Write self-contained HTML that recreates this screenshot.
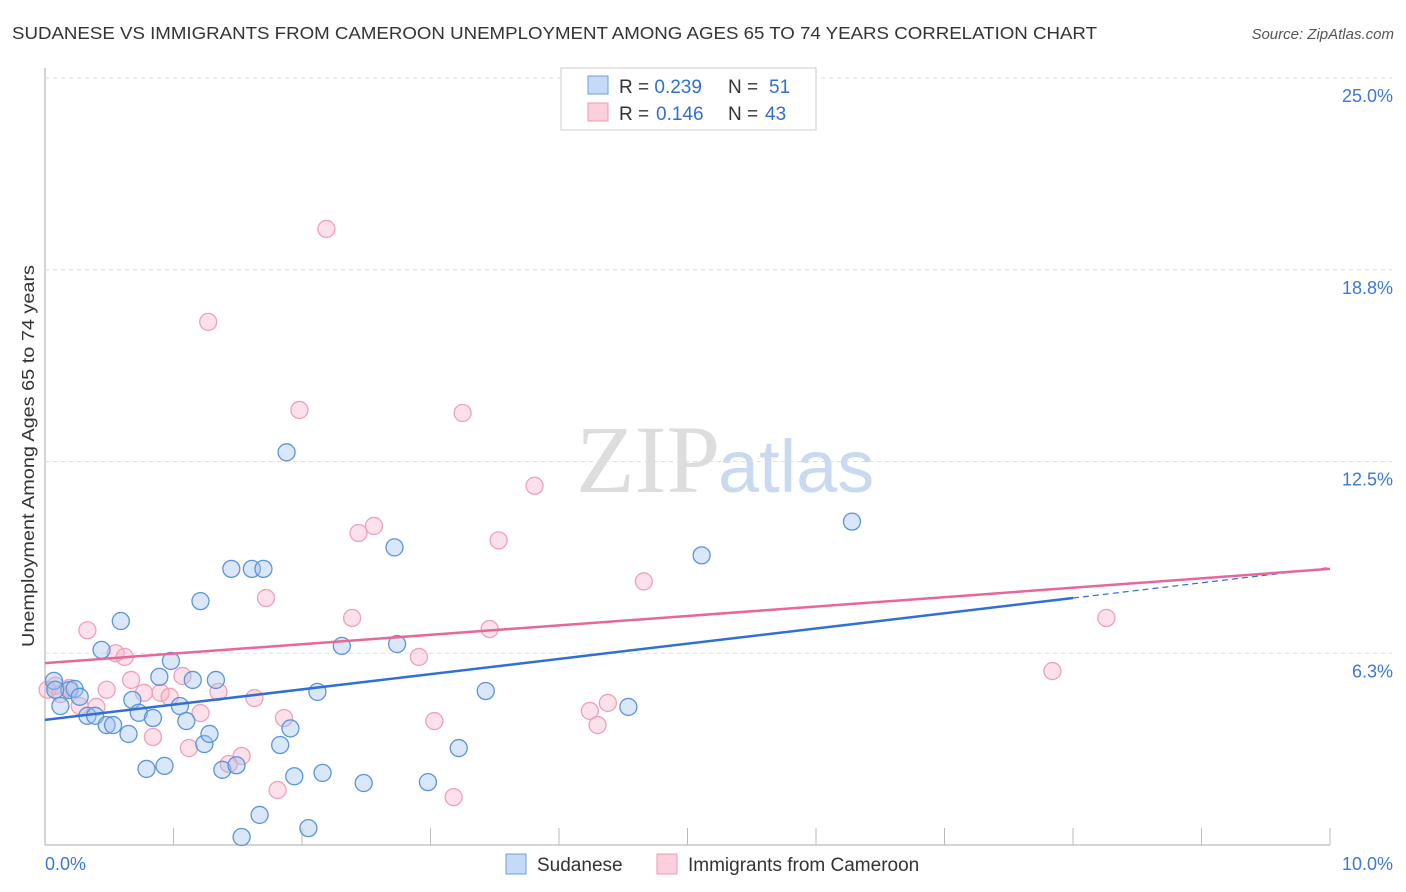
<!DOCTYPE html>
<html><head><meta charset="utf-8"><style>
body{margin:0;background:#fff;font-family:"Liberation Sans",sans-serif;}
#wrap{position:relative;width:1406px;height:892px;overflow:hidden;}
</style></head><body>
<div id="wrap">
<svg id="svg" width="1406" height="892" xmlns="http://www.w3.org/2000/svg">
<text x="12" y="39" font-size="17.5" fill="#333" textLength="1085" lengthAdjust="spacingAndGlyphs">SUDANESE VS IMMIGRANTS FROM CAMEROON UNEMPLOYMENT AMONG AGES 65 TO 74 YEARS CORRELATION CHART</text>
<text x="1394" y="39" font-size="15" fill="#555" font-style="italic" text-anchor="end">Source: ZipAtlas.com</text>
<text x="720" y="492" font-size="96" fill="#ddd" text-anchor="end" font-family="Liberation Serif">ZIP</text>
<text x="718" y="492" font-size="74" fill="#c9daf0">atlas</text>
<text transform="translate(34,456) rotate(-90)" font-size="17.5" fill="#333" text-anchor="middle" textLength="382" lengthAdjust="spacingAndGlyphs">Unemployment Among Ages 65 to 74 years</text>
<g id="grid"></g><g id="pts"></g><g id="lines"></g>
<g>
<rect x="561" y="68" width="255" height="62" fill="#fff" stroke="#ccc"/>
<rect x="588" y="76" width="20" height="18" fill="#c5daf6" stroke="#6a9fe0"/>
<rect x="588" y="103" width="20" height="18" fill="#fbd0dc" stroke="#ef9ab2"/>
<text x="619" y="93" font-size="19" fill="#333">R = <tspan fill="#2f6fd6">0.239</tspan><tspan x="728">N = </tspan><tspan fill="#2f6fd6" x="769">51</tspan></text>
<text x="619" y="120" font-size="19" fill="#333">R = <tspan fill="#2f6fd6" x="656">0.146</tspan><tspan x="728">N = </tspan><tspan fill="#2f6fd6" x="765">43</tspan></text>
</g>
<g>
<rect x="506" y="854" width="20" height="20" fill="#c5daf6" stroke="#6a9fe0"/>
<text x="537" y="871" font-size="19" fill="#333">Sudanese</text>
<rect x="657" y="854" width="20" height="20" fill="#fbd0dc" stroke="#ef9ab2"/>
<text x="688" y="871" font-size="19" fill="#333">Immigrants from Cameroon</text>
</g>
</svg>
</div>
<script>
const yTicks=[6.25,12.5,18.75,25];
const yTickLabels=["6.3%","12.5%","18.8%","25.0%"];
const xTickCount=10;
const sudX=[0.07,0.12,0.19,0.23,0.27,0.33,0.39,0.44,0.48,0.53,0.59,0.65,0.68,0.73,0.79,0.84,0.89,0.93,0.98,1.05,1.1,1.15,1.21,1.24,1.28,1.33,1.38,1.45,1.49,1.53,1.61,1.67,1.7,1.83,1.88,1.91,1.94,2.12,2.16,2.05,2.31,2.48,2.72,2.74,2.98,3.22,3.43,4.54,5.11,6.28,0.08];
const sudY=[5.35,4.53,5.05,5.09,4.83,4.21,4.21,6.36,3.91,3.91,7.3,3.62,4.73,4.31,2.48,4.14,5.48,2.58,6.0,4.53,4.04,5.38,7.95,3.29,3.62,5.38,2.45,9.0,2.6,0.26,9.0,0.98,9.0,3.26,12.8,3.8,2.24,4.99,2.35,0.55,6.49,2.02,9.7,6.55,2.05,3.16,5.02,4.5,9.44,10.54,5.06];
const camX=[0.02,0.08,0.12,0.19,0.27,0.33,0.4,0.48,0.55,0.62,0.67,0.77,0.84,0.9,0.97,1.07,1.12,1.21,1.27,1.35,1.43,1.53,1.63,1.72,1.81,1.86,1.98,2.39,2.44,2.56,2.91,3.03,3.18,3.25,3.46,3.53,3.81,4.24,4.3,4.38,4.66,7.84,8.26,2.19];
const camY=[5.06,5.19,4.92,5.12,4.53,7.0,4.5,5.06,6.25,6.13,5.38,4.96,3.52,4.96,4.83,5.51,3.16,4.3,17.05,4.99,2.64,2.9,4.79,8.05,1.79,4.14,14.18,7.4,10.17,10.4,6.13,4.04,1.56,14.08,7.04,9.93,11.71,4.37,3.91,4.63,8.59,5.67,7.4,20.08];
const sudTrend=[4.08,8.05], camTrend=[5.93,9.0];
const X0=45,X1=1330,Y0=845,YT=78;
const xs=v=>X0+(X1-X0)*v/10, ys=v=>Y0-(Y0-YT)*v/25;
const NS="http://www.w3.org/2000/svg";
function mk(t,a,p){const e=document.createElementNS(NS,t);for(const k in a)e.setAttribute(k,a[k]);p.appendChild(e);return e;}
const grid=document.getElementById('grid');
const ax=mk('line',{x1:X0,y1:68,x2:X0,y2:Y0,stroke:'#aaa'},grid);


const bx=mk('line',{x1:X0,y1:Y0,x2:X1,y2:Y0,stroke:'#aaa'},grid);


yTicks.forEach((v,i)=>{
 const g=mk('line',{x1:X0,y1:ys(v),x2:1392,y2:ys(v),stroke:'#ddd','stroke-dasharray':'4,4'},grid);
 
 
 const t=mk('text',{x:1393,y:ys(v)+24,'font-size':18,fill:'#3b78d8','text-anchor':'end'},grid);
 t.textContent=yTickLabels[i];
 
 
});
for(let i=1;i<=xTickCount;i++){
 const l=mk('line',{x1:xs(i),y1:828,x2:xs(i),y2:Y0,stroke:'#bbb'},grid);
 
 
}
const xl=mk('text',{x:45,y:870,'font-size':18,fill:'#3b78d8'},grid);xl.textContent='0.0%';


const xr=mk('text',{x:1393,y:870,'font-size':18,fill:'#3b78d8','text-anchor':'end'},grid);xr.textContent='10.0%';


const pts=document.getElementById('pts');
camX.forEach((x,i)=>{const c=mk('circle',{cx:xs(x),cy:ys(camY[i]),r:8.5,fill:'rgba(246,170,195,0.35)',stroke:'#f0a0b8','stroke-width':1.3},pts);
 
 });
sudX.forEach((x,i)=>{const c=mk('circle',{cx:xs(x),cy:ys(sudY[i]),r:8.5,fill:'rgba(160,196,240,0.4)',stroke:'#5b94dc','stroke-width':1.3},pts);
 
 });
const lines=document.getElementById('lines');
const sy=x=>sudTrend[0]+(sudTrend[1]-sudTrend[0])*x/8;
const l1=mk('line',{x1:xs(0),y1:ys(sy(0)),x2:xs(8),y2:ys(sy(8)),stroke:'#2f6fd6','stroke-width':2.5},lines);


const l2=mk('line',{x1:xs(8),y1:ys(sy(8)),x2:xs(10),y2:ys(sy(10)),stroke:'#2f6fd6','stroke-width':1.2,'stroke-dasharray':'6,4'},lines);


const l3=mk('line',{x1:xs(0),y1:ys(camTrend[0]),x2:xs(10),y2:ys(camTrend[1]),stroke:'#e8679a','stroke-width':2.5},lines);


</script>
</body></html>
